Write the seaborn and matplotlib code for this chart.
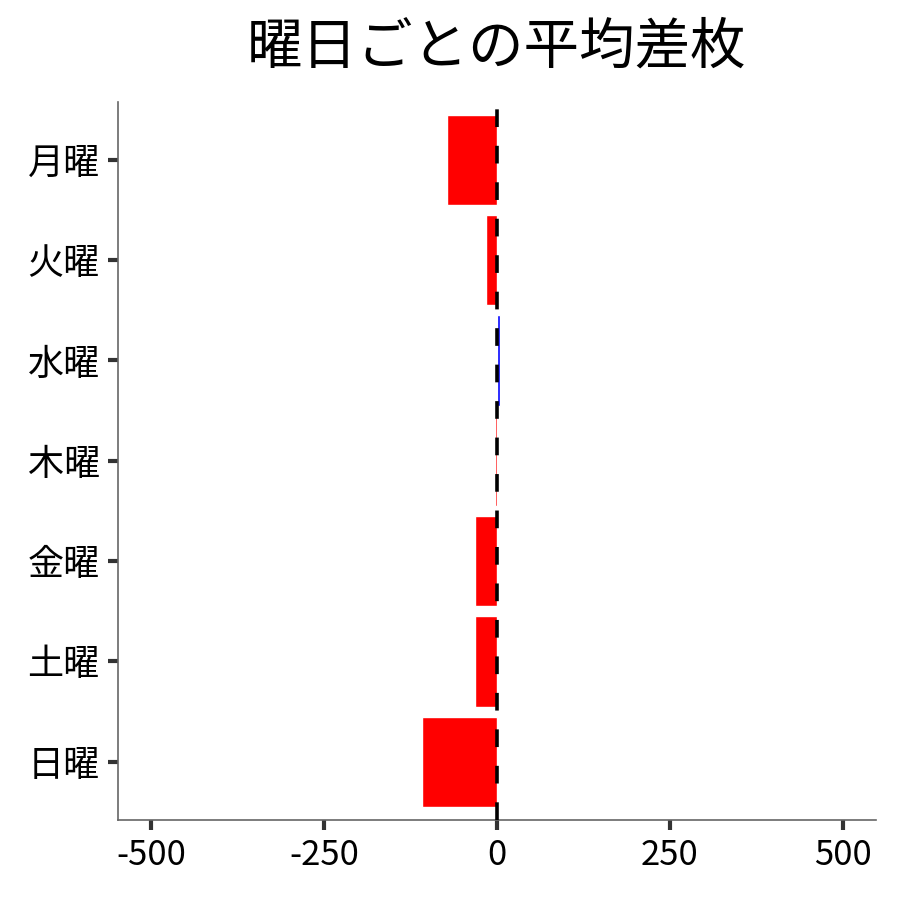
import matplotlib
matplotlib.use("Agg")
import matplotlib.pyplot as plt
import seaborn as sns
import pandas as pd

days = ["月曜", "火曜", "水曜", "木曜", "金曜", "土曜", "日曜"]
avg_diff = [-72, -16, 4, -3, -32, -32, -108]
xticks = [-500, -250, 0, 250, 500]

sns.set_theme(style="white")
plt.rcParams['font.family'] = ['Noto Sans CJK JP', 'DejaVu Sans']

df = pd.DataFrame({"day": days, "diff": avg_diff})
colors = ["#0000ff" if v > 0 else "#ff0000" for v in avg_diff]

fig = plt.figure(figsize=(9, 9), dpi=100)
ax = fig.add_axes([0.131, 0.089, 0.842, 0.798])
sns.barplot(data=df, x="diff", y="day", hue="day", palette=colors,
            order=days, width=0.9, legend=False, ax=ax, saturation=1)
ax.axvline(0, color="black", linestyle=(0, (4.9, 5.2)), linewidth=2.6, zorder=5)
ax.set_xlim(-548, 548)
ax.set_ylim(6.58, -0.58)
ax.set_xticks(xticks)
ax.set_xticklabels([str(t) for t in xticks])
ax.set_xlabel("")
ax.set_ylabel("")
ax.tick_params(axis="both", which="major", length=7, width=3, color="#333333",
               labelcolor="black", pad=6, bottom=True, left=True)
ax.tick_params(axis="y", labelsize=26)
ax.tick_params(axis="x", labelsize=25)
for s in ["top", "right"]:
    ax.spines[s].set_visible(False)
for s in ["left", "bottom"]:
    ax.spines[s].set_color("#666666")
    ax.spines[s].set_linewidth(1.2)
fig.suptitle("曜日ごとの平均差枚", fontsize=40, y=0.979, x=0.552, va="top",
             color="black")
fig.savefig("out.png", dpi=100, facecolor="white")
